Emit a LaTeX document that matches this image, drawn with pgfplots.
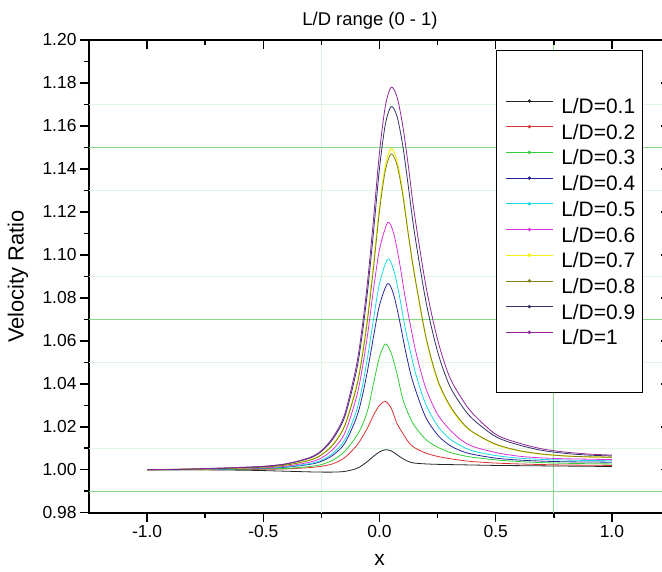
\documentclass[border=0pt]{standalone}
\usepackage{fontspec}
\setmainfont{Liberation Sans}
\usepackage{pgfplots}
\pgfplotsset{compat=1.18}
\definecolor{cA}{rgb}{0.15,0.15,0.15}
\definecolor{cB}{rgb}{0.85,0.2,0.2}
\definecolor{cC}{rgb}{0.2,0.8,0.2}
\definecolor{cD}{rgb}{0.15,0.15,0.6}
\definecolor{cE}{rgb}{0.1,0.85,0.9}
\definecolor{cF}{rgb}{0.85,0.2,0.85}
\definecolor{cG}{rgb}{0.95,0.95,0.1}
\definecolor{cH}{rgb}{0.5,0.5,0.1}
\definecolor{cI}{rgb}{0.2,0.2,0.4}
\definecolor{cJ}{rgb}{0.55,0.15,0.6}
\definecolor{glineA}{HTML}{88DA88}
\definecolor{glineB}{HTML}{E2F4E2}
\begin{document}
\begin{tikzpicture}
\begin{axis}[
  name=main, at={(0,0)}, anchor=south west,
  scale only axis, width=581bp, height=472.7bp,
  xmin=-1.25, xmax=1.25, ymin=0.98, ymax=1.20,
  xtick={-1,-0.5,0,0.5,1},
  ytick={0.98,1.00,1.02,1.04,1.06,1.08,1.10,1.12,1.14,1.16,1.18,1.20},
  minor tick num=1,
  xtick pos=left, ytick pos=left, tick align=outside,
  major tick length=9bp, minor tick length=5bp,
  tick style={line width=1.5bp, black},
  axis line style={line width=1.8bp},
  /pgf/number format/assume math mode=true,
  tick label style={font=\fontsize{17.5}{19}\selectfont},
  xticklabel style={/pgf/number format/.cd, fixed, fixed zerofill, precision=1},
  yticklabel style={/pgf/number format/.cd, fixed, fixed zerofill, precision=2},
  xlabel={x}, ylabel={Velocity Ratio},
  every axis x label/.style={at={(axis description cs:0.5,-0.1)}, anchor=center, inner sep=1bp, font=\fontsize{21}{22}\selectfont},
  every axis y label/.style={at={(axis description cs:-0.1222,0.5)}, anchor=center, rotate=90, inner sep=1bp, font=\fontsize{22}{24}\selectfont},
  title={L/D range (0 - 1)},
  title style={at={(axis description cs:0.4837,1.028)}, anchor=center, font=\fontsize{18.5}{20}\selectfont},
  every axis plot/.append style={line width=0.8bp, smooth, mark=none},
  legend image code/.code={\draw[#1, line width=0.8bp] (0bp,5bp) -- (47bp,5bp); \fill[#1] (23.5bp,5bp) circle[radius=1.3bp];},
  legend cell align=left,
  legend style={at={(0.7,0.9788)}, anchor=north west, draw=black, line width=1bp, fill=white,
    inner xsep=9.3bp, inner ysep=48bp, font=\fontsize{21}{21}\selectfont, row sep=10.7bp,
    nodes={inner sep=0pt, text height=15bp, text depth=0bp, text width=72bp, align=left},
    /tikz/every odd column/.style={column sep=8bp}},
]
\addplot[draw=glineB, line width=1bp, sharp plot, forget plot] coordinates {(-1.25,1.17) (1.25,1.17)};
\addplot[draw=glineB, line width=1bp, sharp plot, forget plot] coordinates {(-1.25,1.13) (1.25,1.13)};
\addplot[draw=glineB, line width=1bp, sharp plot, forget plot] coordinates {(-1.25,1.09) (1.25,1.09)};
\addplot[draw=glineB, line width=1bp, sharp plot, forget plot] coordinates {(-1.25,1.05) (1.25,1.05)};
\addplot[draw=glineB, line width=1bp, sharp plot, forget plot] coordinates {(-1.25,1.01) (1.25,1.01)};
\addplot[draw=glineB, line width=1bp, sharp plot, forget plot] coordinates {(-0.25,0.98) (-0.25,1.20)};
\addplot[draw=glineA, line width=1bp, sharp plot, forget plot] coordinates {(-1.25,1.15) (1.25,1.15)};
\addplot[draw=glineA, line width=1bp, sharp plot, forget plot] coordinates {(-1.25,1.07) (1.25,1.07)};
\addplot[draw=glineA, line width=1bp, sharp plot, forget plot] coordinates {(-1.25,0.99) (1.25,0.99)};
\addplot[draw=glineA, line width=1bp, sharp plot, forget plot] coordinates {(0.75,0.98) (0.75,1.20)};

\addplot[color=cA] coordinates {(-1,1.0000) (-0.8,1.0000) (-0.6,0.9998) (-0.5,0.9996) (-0.4,0.9993) (-0.3,0.9990) (-0.25,0.9989) (-0.2,0.9989) (-0.15,0.9992) (-0.1,1.0005) (-0.075,1.0020) (-0.05,1.0040) (-0.025,1.0063) (0,1.0083) (0.025,1.0093) (0.05,1.0088) (0.075,1.0070) (0.1,1.0052) (0.125,1.0038) (0.15,1.0031) (0.2,1.0027) (0.25,1.0025) (0.3,1.0024) (0.4,1.0022) (0.5,1.0020) (0.6,1.0019) (0.7,1.0018) (0.8,1.0017) (0.9,1.0016) (1.0,1.0015)};
\addplot[color=cB] coordinates {(-1,1.0000) (-0.8,1.0000) (-0.6,1.0001) (-0.5,1.0002) (-0.4,1.0004) (-0.3,1.0010) (-0.25,1.0016) (-0.2,1.0028) (-0.15,1.0056) (-0.1,1.0110) (-0.075,1.0150) (-0.05,1.0198) (-0.025,1.0255) (0,1.0300) (0.025,1.0318) (0.05,1.0287) (0.075,1.0216) (0.1,1.0170) (0.125,1.0128) (0.15,1.0103) (0.2,1.0077) (0.25,1.0062) (0.3,1.0052) (0.35,1.0044) (0.4,1.0038) (0.5,1.0031) (0.6,1.0027) (0.7,1.0024) (0.8,1.0022) (0.9,1.0021) (1.0,1.0020)};
\addplot[color=cC] coordinates {(-1,1.0000) (-0.8,1.0000) (-0.6,1.0002) (-0.5,1.0004) (-0.4,1.0006) (-0.3,1.0015) (-0.25,1.0024) (-0.2,1.0045) (-0.15,1.0085) (-0.1,1.0155) (-0.075,1.0205) (-0.05,1.0280) (-0.025,1.0405) (0,1.0525) (0.025,1.0585) (0.05,1.0544) (0.075,1.0448) (0.1,1.0330) (0.125,1.0258) (0.15,1.0205) (0.2,1.0140) (0.25,1.0105) (0.3,1.0082) (0.35,1.0068) (0.4,1.0058) (0.5,1.0046) (0.6,1.0038) (0.7,1.0033) (0.8,1.0030) (0.9,1.0028) (1.0,1.0027)};
\addplot[color=cD] coordinates {(-1,1.0000) (-0.8,1.0001) (-0.6,1.0004) (-0.5,1.0007) (-0.4,1.0012) (-0.3,1.0025) (-0.25,1.0039) (-0.2,1.0068) (-0.15,1.0122) (-0.1,1.0240) (-0.075,1.0338) (-0.05,1.0470) (-0.025,1.0624) (0,1.0766) (0.035,1.0866) (0.06,1.0818) (0.085,1.0701) (0.11,1.0563) (0.135,1.0442) (0.16,1.0355) (0.2,1.0242) (0.25,1.0162) (0.3,1.0115) (0.35,1.0088) (0.4,1.0072) (0.5,1.0054) (0.6,1.0045) (0.7,1.0040) (0.8,1.0037) (0.9,1.0036) (1.0,1.0035)};
\addplot[color=cE] coordinates {(-1,1.0000) (-0.8,1.0001) (-0.6,1.0005) (-0.5,1.0008) (-0.4,1.0014) (-0.3,1.0028) (-0.25,1.0044) (-0.2,1.0077) (-0.15,1.0138) (-0.1,1.0271) (-0.075,1.0382) (-0.05,1.0532) (-0.025,1.0706) (0,1.0867) (0.035,1.0980) (0.06,1.0933) (0.085,1.0813) (0.11,1.0662) (0.135,1.0539) (0.16,1.0431) (0.2,1.0302) (0.25,1.0204) (0.3,1.0146) (0.35,1.0112) (0.4,1.0088) (0.5,1.0066) (0.6,1.0054) (0.7,1.0048) (0.8,1.0045) (0.9,1.0043) (1.0,1.0042)};
\addplot[color=cF] coordinates {(-1,1.0000) (-0.8,1.0002) (-0.6,1.0006) (-0.5,1.0009) (-0.4,1.0017) (-0.3,1.0035) (-0.25,1.0055) (-0.2,1.0095) (-0.15,1.0169) (-0.1,1.0334) (-0.075,1.0466) (-0.05,1.0638) (-0.025,1.0845) (0,1.1024) (0.035,1.1150) (0.06,1.1104) (0.085,1.0972) (0.11,1.0805) (0.135,1.0661) (0.16,1.0532) (0.2,1.0377) (0.25,1.0258) (0.3,1.0189) (0.35,1.0140) (0.4,1.0109) (0.5,1.0080) (0.6,1.0063) (0.7,1.0055) (0.8,1.0051) (0.9,1.0049) (1.0,1.0047)};
\addplot[color=cG, line width=1.1bp] coordinates {(-1,1.0000) (-0.8,1.0003) (-0.6,1.0008) (-0.5,1.0013) (-0.4,1.0022) (-0.3,1.0045) (-0.25,1.0070) (-0.2,1.0118) (-0.15,1.0206) (-0.1,1.0386) (-0.075,1.0531) (-0.05,1.0724) (-0.025,1.0964) (0,1.1226) (0.025,1.1414) (0.05,1.1495) (0.075,1.1440) (0.1,1.1293) (0.125,1.1091) (0.15,1.0912) (0.2,1.0613) (0.25,1.0414) (0.3,1.0299) (0.35,1.0223) (0.4,1.0176) (0.5,1.0117) (0.6,1.0088) (0.7,1.0072) (0.8,1.0064) (0.9,1.0060) (1.0,1.0058)};
\addplot[color=cH] coordinates {(-1,1.0000) (-0.8,1.0002) (-0.6,1.0008) (-0.5,1.0012) (-0.4,1.0022) (-0.3,1.0044) (-0.25,1.0069) (-0.2,1.0116) (-0.15,1.0203) (-0.1,1.0379) (-0.075,1.0522) (-0.05,1.0711) (-0.025,1.0948) (0,1.1205) (0.025,1.1391) (0.05,1.1470) (0.075,1.1419) (0.1,1.1279) (0.125,1.1088) (0.15,1.0911) (0.2,1.0617) (0.25,1.0419) (0.3,1.0304) (0.35,1.0228) (0.4,1.0176) (0.5,1.0119) (0.6,1.0089) (0.7,1.0073) (0.8,1.0064) (0.9,1.0060) (1.0,1.0058)};
\addplot[color=cI] coordinates {(-1,1.0000) (-0.8,1.0003) (-0.6,1.0010) (-0.5,1.0015) (-0.4,1.0027) (-0.3,1.0054) (-0.25,1.0085) (-0.2,1.0144) (-0.15,1.0245) (-0.1,1.0456) (-0.075,1.0625) (-0.05,1.0845) (-0.025,1.1115) (0,1.1403) (0.025,1.1606) (0.05,1.1690) (0.075,1.1646) (0.1,1.1509) (0.125,1.1311) (0.15,1.1107) (0.2,1.0782) (0.25,1.0549) (0.3,1.0395) (0.35,1.0304) (0.4,1.0237) (0.5,1.0154) (0.6,1.0115) (0.7,1.0090) (0.8,1.0076) (0.9,1.0068) (1.0,1.0064)};
\addplot[color=cJ] coordinates {(-1,1.0000) (-0.8,1.0004) (-0.6,1.0011) (-0.5,1.0016) (-0.4,1.0028) (-0.3,1.0057) (-0.25,1.0089) (-0.2,1.0151) (-0.15,1.0258) (-0.1,1.0481) (-0.075,1.0659) (-0.05,1.0890) (-0.025,1.1175) (0,1.1477) (0.025,1.1691) (0.05,1.1780) (0.075,1.1736) (0.1,1.1602) (0.125,1.1406) (0.15,1.1193) (0.2,1.0854) (0.25,1.0605) (0.3,1.0436) (0.35,1.0338) (0.4,1.0263) (0.5,1.0165) (0.6,1.0124) (0.7,1.0097) (0.8,1.0082) (0.9,1.0073) (1.0,1.0068)};
\legend{L/D=0.1,L/D=0.2,L/D=0.3,L/D=0.4,L/D=0.5,L/D=0.6,L/D=0.7,L/D=0.8,L/D=0.9,L/D=1}
\end{axis}
\begin{axis}[
  at={(0,0)}, anchor=south west,
  scale only axis, width=581bp, height=472.7bp,
  xmin=-1.25, xmax=1.25, ymin=0.98, ymax=1.20,
  xtick={-1,-0.5,0,0.5,1},
  ytick={0.98,1.00,1.02,1.04,1.06,1.08,1.10,1.12,1.14,1.16,1.18,1.20},
  minor tick num=1,
  xtick pos=right, ytick pos=right, tick align=inside,
  major tick length=9bp, minor tick length=5bp,
  tick style={line width=1.5bp, black},
  axis line style={draw=none},
  xticklabels={}, yticklabels={},
]
\end{axis}
\pgfresetboundingbox
\path[use as bounding box] (-89bp,-59.3bp) rectangle (573bp,512.7bp);
\end{tikzpicture}
\end{document}
